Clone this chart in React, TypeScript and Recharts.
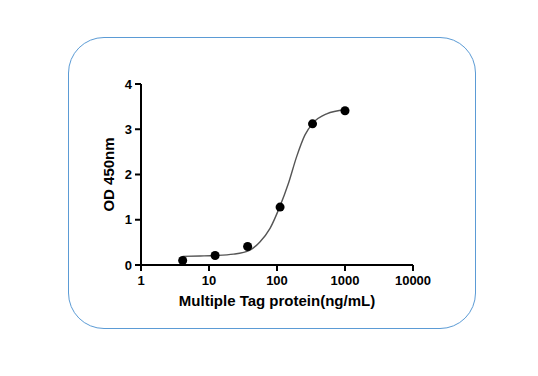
import {
  ComposedChart,
  Line,
  Scatter,
  XAxis,
  YAxis,
} from "recharts";

// measured points (3-fold dilution series)
const concentration = [4.1, 12.3, 37, 111, 333, 1000];
const od450 = [0.1, 0.21, 0.41, 1.28, 3.12, 3.41];

// fitted curve
const fitX = [4.1, 7.4, 12, 23, 40, 56, 79, 110, 147, 194, 257, 340, 537, 1000];
const fitY = [0.19, 0.2, 0.21, 0.24, 0.33, 0.51, 0.81, 1.29, 1.8, 2.39, 2.87, 3.14, 3.34, 3.43];

const xTicks = [1, 10, 100, 1000, 10000];
const yTicks = [0, 1, 2, 3, 4];

const points = concentration.map((x, i) => ({ x, y: od450[i] }));
const curve = fitX.map((x, i) => ({ x, y: fitY[i] }));

const font = "'Liberation Sans', Arial, sans-serif";
const tickStyle = { fill: "#000", fontSize: 13, fontWeight: 700, fontFamily: font };

export default function App() {
  return (
    <div
      style={{
        position: "absolute",
        left: 0,
        top: 0,
        width: 538,
        height: 376,
        background: "#fff",
      }}
    >
      <div
        style={{
          position: "absolute",
          left: 68,
          top: 37,
          width: 408,
          height: 292,
          boxSizing: "border-box",
          border: "1.5px solid #5b9bd5",
          borderRadius: 36,
        }}
      />
      <ComposedChart
        width={538}
        height={376}
        margin={{ top: 84, right: 125, bottom: 81, left: 101 }}
        style={{ position: "absolute", left: 0, top: 0 }}
      >
        <XAxis
          type="number"
          dataKey="x"
          scale="log"
          domain={[1, 10000]}
          ticks={xTicks}
          allowDataOverflow
          height={30}
          stroke="#000"
          strokeWidth={2}
          tickSize={6}
          tickMargin={5}
          tick={tickStyle}
          label={{
            value: "Multiple Tag protein(ng/mL)",
            position: "bottom",
            offset: 0,
            style: { fill: "#000", fontSize: 15, fontWeight: 700, fontFamily: font },
          }}
        />
        <YAxis
          type="number"
          dataKey="y"
          domain={[0, 4]}
          ticks={yTicks}
          width={40}
          stroke="#000"
          strokeWidth={2}
          tickSize={6}
          tickMargin={3}
          tick={tickStyle}
          label={{
            value: "OD 450nm",
            angle: -90,
            position: "center",
            dx: -12,
            style: { fill: "#000", fontSize: 15, fontWeight: 700, fontFamily: font },
          }}
        />
        <Line
          data={curve}
          dataKey="y"
          type="monotone"
          stroke="#555"
          strokeWidth={1.4}
          dot={false}
          isAnimationActive={false}
        />
        <Scatter
          data={points}
          dataKey="y"
          fill="#000"
          shape="circle"
          isAnimationActive={false}
        />
      </ComposedChart>
    </div>
  );
}
